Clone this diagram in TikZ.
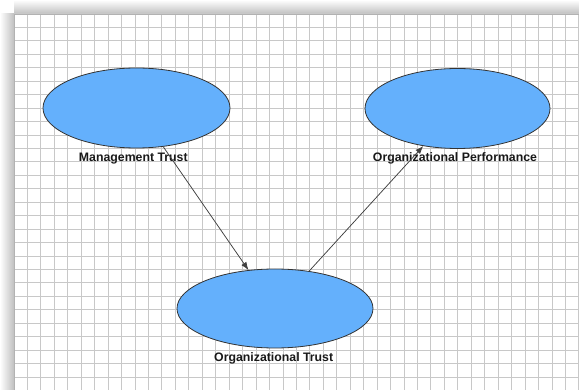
\documentclass[tikz,border=0pt]{standalone}
\usepackage{fontspec}
\setmainfont{Liberation Sans}
\usepackage{tikz}
\usetikzlibrary{shapes.geometric,arrows.meta}

\definecolor{bubble}{RGB}{100,176,252}
\definecolor{gridgray}{RGB}{200,200,200}

\begin{document}
\begin{tikzpicture}[x=1pt,y=-1pt,
    construct/.style={ellipse, draw=black!80, line width=0.8pt, fill=bubble, inner sep=0pt},
    lbl/.style={anchor=base, font=\fontsize{12.3}{14}\selectfont\bfseries, text=black!90, inner sep=0pt},
    link/.style={draw=black!75, line width=0.75pt, -{Latex[length=8pt,width=6pt]}}]
			\useasboundingbox (0,0) rectangle (579,390);
			\fill[white] (0,0) rectangle (579,390);
			\shade[left color=white, right color=black!25] (0,14) rectangle (14,390);
			\shade[top color=white, bottom color=black!25] (14,0) rectangle (579,14);
			\foreach \gx in {14,27.45,...,579}
				\draw[gridgray, line width=1pt](\gx,14)--(\gx,390);
			\foreach \gy in {14,27.45,...,390}
				\draw[gridgray, line width=1pt](14,\gy)--(579,\gy);
			\draw[black!30, line width=0.8pt](14,390)--(14,14)--(579,14);
			\node[construct, minimum width=187pt, minimum height=80pt] (mgmt) at (136.5,108) {};
			\node[construct, minimum width=185pt, minimum height=80pt] (perf) at (457.5,108.5) {};
			\node[construct, minimum width=196pt, minimum height=79pt] (orgtrust) at (275,308.5) {};
			\node[lbl] (mgmtlbl) at (133.3,161.5) {Management Trust};
			\node[lbl] (perflbl) at (455,161.5) {Organizational Performance};
			\node[lbl] (orgtrustlbl) at (273.7,361.5) {Organizational Trust};
			\draw[link](mgmt)--(orgtrust);
			\draw[link](orgtrust)--(perf);
			\end{tikzpicture}
\end{document}
